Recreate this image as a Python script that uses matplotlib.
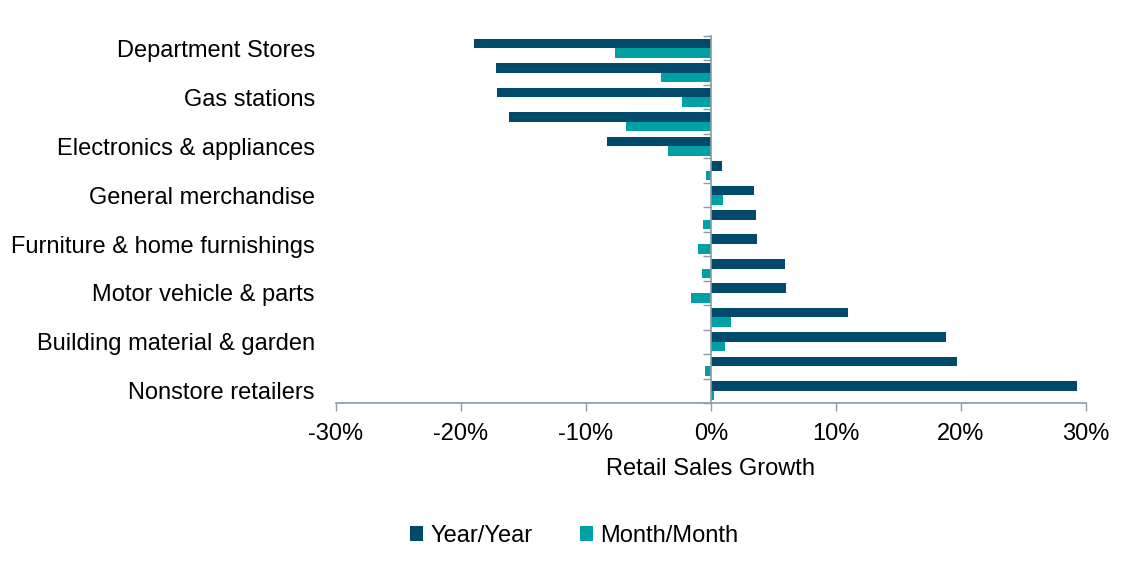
import numpy as np
import matplotlib
matplotlib.use("Agg")
import matplotlib.pyplot as plt
from matplotlib.ticker import FuncFormatter

plt.rcParams['font.family'] = ['Liberation Sans', 'DejaVu Sans']

# categories top to bottom; only every other one is labelled in the chart
categories = [
    "Department Stores",
    "Food services & drinking places",
    "Gas stations",
    "Clothing & accessories",
    "Electronics & appliances",
    "Health & personal care",
    "General merchandise",
    "Miscellaneous store retailers",
    "Furniture & home furnishings",
    "Food & beverage stores",
    "Motor vehicle & parts",
    "Grocery stores",
    "Building material & garden",
    "Sporting goods, hobby, music & books",
    "Nonstore retailers",
]
yoy = [-18.9, -17.2, -17.1, -16.1, -8.3, 0.9, 3.45, 3.6, 3.7, 5.9, 6.0, 11.0, 18.8, 19.7, 29.3]
mom = [-7.65, -3.95, -2.3, -6.75, -3.45, -0.4, 1.0, -0.6, -1.0, -0.7, -1.6, 1.65, 1.1, -0.5, 0.25]
x_ticks = [-30, -20, -10, 0, 10, 20, 30]

dark = '#004B6C'
teal = '#00A0A4'
axis_col = '#8C9BA5'

fig = plt.figure(figsize=(11.3, 5.71), dpi=100)
ax = fig.add_axes([0.297, 0.294, 0.664, 0.643])

y = np.arange(len(categories))
ax.barh(y - 0.195, yoy, height=0.39, color=dark, label='Year/Year')
ax.barh(y + 0.195, mom, height=0.39, color=teal, label='Month/Month')

ax.set_xlim(-30, 30)
ax.set_ylim(len(categories) - 0.5, -0.5)

# x axis
ax.set_xticks(x_ticks)
ax.xaxis.set_major_formatter(FuncFormatter(lambda v, p: f"{v:.0f}%"))
ax.tick_params(axis='x', length=6, width=1, color=axis_col, labelsize=17, pad=8)
ax.set_xlabel("Retail Sales Growth", fontsize=17, labelpad=10)

for s in ['top', 'right']:
    ax.spines[s].set_visible(False)
ax.spines['bottom'].set_color(axis_col)
ax.spines['bottom'].set_linewidth(1.2)

# zero line with category separator ticks
ax.spines['left'].set_position(('data', 0))
ax.spines['left'].set_color(axis_col)
ax.spines['left'].set_linewidth(1.2)
ax.set_yticks(np.arange(len(categories) + 1) - 0.5)
ax.set_yticklabels([])
ax.tick_params(axis='y', length=6, width=1, color=axis_col)

# category labels at the left edge
sec = ax.secondary_yaxis(0.0)
sec.set_yticks(y[::2])
sec.set_yticklabels(categories[::2])
sec.tick_params(axis='y', length=0, labelsize=17, pad=15)
sec.spines['left'].set_visible(False)

fig.legend(loc='lower center', bbox_to_anchor=(0.508, 0.005), ncol=2, frameon=False,
           fontsize=17, handlelength=0.55, handleheight=0.55, handletextpad=0.3,
           columnspacing=2.0)

fig.savefig("out.png", dpi=100)
